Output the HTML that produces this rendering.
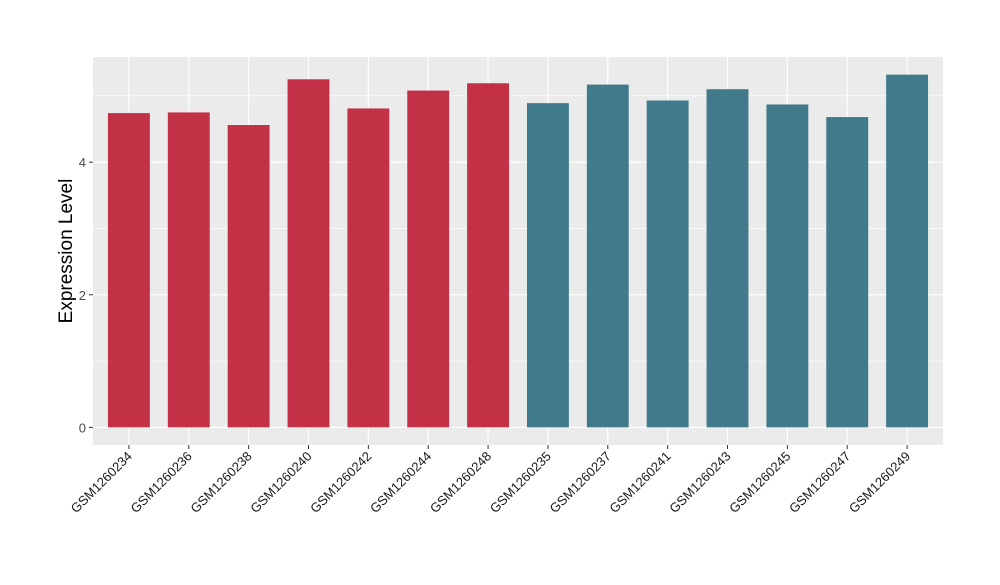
<!DOCTYPE html>
<html><head><meta charset="utf-8"><style>
body{margin:0;background:#fff;}
text{font-family:"Liberation Sans",Arial,sans-serif;}
</style></head><body>
<svg id="chart" width="1000" height="580" xmlns="http://www.w3.org/2000/svg">
<rect x="93" y="57" width="850" height="388" fill="#ebebeb"/>
<g id="grid"></g><g id="bars"></g><g id="axes"></g>
<text transform="translate(72,251) rotate(-90)" text-anchor="middle" font-size="19" fill="#000">Expression Level</text>
</svg>
<script>
const categories=["GSM1260234","GSM1260236","GSM1260238","GSM1260240","GSM1260242","GSM1260244","GSM1260248","GSM1260235","GSM1260237","GSM1260241","GSM1260243","GSM1260245","GSM1260247","GSM1260249"];
const values=[4.74,4.75,4.56,5.25,4.81,5.08,5.19,4.89,5.17,4.93,5.10,4.87,4.68,5.32];
const groups=[0,0,0,0,0,0,0,1,1,1,1,1,1,1];
const groupColors=["#c33147","#417a8b"];
const yTicks=[0,2,4];
const yMinor=[1,3,5];
const NS="http://www.w3.org/2000/svg";
const L=93,R=943,T=57,B=445;
const yMax=Math.max(...values)*1.05,yMin=-Math.max(...values)*0.05;
const y=v=>B-(v-yMin)/(yMax-yMin)*(B-T);
const step=(R-L)/(categories.length+0.2);
const x=i=>L+step*(0.6+i);
const bw=step*0.7;
function mk(tag,attrs,parent){const e=document.createElementNS(NS,tag);for(const k in attrs)e.setAttribute(k,attrs[k]);parent.appendChild(e);return e;}
const grid=document.getElementById('grid'),bars=document.getElementById('bars'),axes=document.getElementById('axes');
yMinor.forEach(v=>{const e=mk('line',{x1:L,x2:R,y1:y(v),y2:y(v),stroke:'#fff','stroke-width':0.6},grid);

});
yTicks.forEach(v=>{const e=mk('line',{x1:L,x2:R,y1:y(v),y2:y(v),stroke:'#fff','stroke-width':1.2},grid);


const t=mk('line',{x1:L-4,x2:L,y1:y(v),y2:y(v),stroke:'#333','stroke-width':1},axes);


const lb=mk('text',{x:L-7,y:y(v)+5,'text-anchor':'end','font-size':13,fill:'#4d4d4d'},axes);lb.textContent=v;

});
categories.forEach((c,i)=>{const g=mk('line',{x1:x(i),x2:x(i),y1:T,y2:B,stroke:'#fff','stroke-width':1.2},grid);


const r=mk('rect',{x:x(i)-bw/2,y:y(values[i]),width:bw,height:y(0)-y(values[i]),fill:groupColors[groups[i]]},bars);


const t=mk('line',{x1:x(i),x2:x(i),y1:B,y2:B+4,stroke:'#333','stroke-width':1},axes);


const lb=mk('text',{transform:`translate(${x(i)+4},${B+12}) rotate(-45)`,'text-anchor':'end','font-size':13,fill:'#1a1a1a'},axes);lb.textContent=c;

});
</script>
</body></html>
